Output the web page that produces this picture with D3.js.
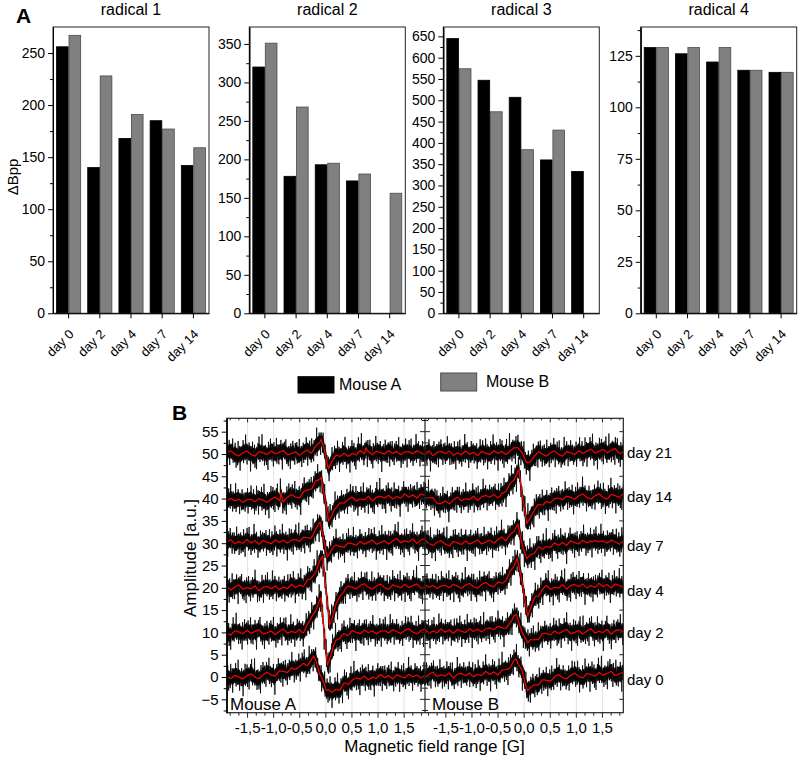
<!DOCTYPE html>
<html><head><meta charset="utf-8">
<script src="https://cdn.jsdelivr.net/npm/d3@7"></script>
<style>
body{margin:0;background:#fff;}
svg text{font-family:Arial,"Liberation Sans",sans-serif;fill:#000;}
</style></head><body>
<svg id="chart" width="800" height="759"></svg>
<script>
// ---------- Panel A data ----------
const days = ["day 0","day 2","day 4","day 7","day 14"];
const radicals = ["radical 1","radical 2","radical 3","radical 4"];
const mouseLabels = ["Mouse A","Mouse B"];
const r1A = [256,140,168,185,142], r1B = [267,228,191,177,159];
const r2A = [320,178,193,172,null], r2B = [351,268,195,181,156];
const r3A = [645,547,507,360,333], r3B = [574,473,384,430,null];
const r4A = [129,126,122,118,117], r4B = [129,129,129,118,117];
const yMax = [275,372,672,139];
const yMajor = [50,50,50,25];

// ---------- Panel B data ----------
const spectraDays = ["day 0","day 2","day 4","day 7","day 14","day 21"];
const labelLevels = [-0.6, 9.9, 19.3, 29.4, 40.4, 50.2];
const fieldTicks = [-1.5,-1.0,-0.5,0.0,0.5,1.0,1.5];
const ampTicks = [-5,0,5,10,15,20,25,30,35,40,45,50,55];
// smoothed (red) fit curves, [field, amplitude]
const fitA0 = [[-1.9,-0.2],[-1.3,0.1],[-0.7,1.4],[-0.37,2.7],[-0.23,4.6],[-0.06,-0.6],[0.01,-3.6],[0.17,-2.9],[0.27,-2.8],[0.39,-1.3],[0.65,-0.4],[1.0,0.0],[1.9,0.2]];
const fitA2 = [[-1.9,10.0],[-1.0,10.0],[-0.45,10.2],[-0.3,12.4],[-0.15,16.0],[-0.09,17.6],[0.03,2.4],[0.14,6.8],[0.3,9.3],[0.5,10.0],[1.9,10.2]];
const fitA4 = [[-1.9,20.0],[-1.0,19.9],[-0.5,20.3],[-0.3,21.8],[-0.18,24.0],[-0.06,27.0],[0.07,11.7],[0.2,16.4],[0.37,19.8],[0.6,20.2],[1.9,20.3]];
const fitA7 = [[-1.9,30.3],[-1.0,30.2],[-0.5,30.6],[-0.3,31.3],[-0.11,34.1],[0.03,27.4],[0.15,28.8],[0.3,29.6],[1.0,30.2],[1.9,30.6]];
const fitA14 = [[-1.9,39.6],[-1.2,39.5],[-0.88,39.7],[-0.86,41.8],[-0.83,39.8],[-0.46,40.9],[-0.27,42.5],[-0.09,44.8],[0.05,34.6],[0.15,37.6],[0.35,39.5],[0.8,40.0],[1.9,40.7]];
const fitA21 = [[-1.9,50.0],[-1.0,50.2],[-0.3,50.2],[-0.09,53.2],[0.05,47.2],[0.2,49.4],[0.5,50.0],[0.74,50.3],[0.77,51.5],[0.8,50.3],[1.9,50.2]];
const fitB0 = [[-1.9,0.4],[-1.0,0.4],[-0.45,1.0],[-0.3,2.0],[-0.15,3.8],[-0.05,1.5],[0.07,-2.9],[0.2,-2.0],[0.35,-1.1],[0.6,-0.2],[1.0,0.3],[1.9,0.8]];
const fitB2 = [[-1.9,10.2],[-1.0,10.3],[-0.4,11.0],[-0.25,12.0],[-0.15,13.8],[0.07,7.3],[0.2,8.6],[0.4,9.6],[0.8,10.1],[1.9,10.2]];
const fitB4 = [[-1.9,20.2],[-1.0,20.3],[-0.41,21.0],[-0.28,23.0],[-0.13,26.5],[0.07,14.0],[0.22,18.1],[0.4,19.8],[0.8,20.3],[1.9,20.5]];
const fitB7 = [[-1.9,30.0],[-1.0,30.0],[-0.35,30.8],[-0.12,33.8],[0.05,26.3],[0.3,28.9],[0.85,30.1],[1.3,30.2],[1.36,31.0],[1.42,30.2],[1.9,30.2]];
const fitB14 = [[-1.9,40.3],[-1.6,39.0],[-1.2,39.8],[-0.47,40.6],[-0.28,42.6],[-0.1,46.3],[0.05,34.1],[0.2,37.8],[0.55,39.7],[1.0,40.3],[1.9,40.6]];
const fitB21 = [[-1.9,50.2],[-1.0,50.1],[-0.3,50.3],[-0.12,51.6],[0.04,48.0],[0.3,50.0],[1.0,50.2],[1.55,50.8],[1.9,50.3]];
// measured noise residual (raw - fit), amplitude units
const noise = [1.2,-1.8,2.6,-0.6,-2.9,1.5,0.4,-2.2,3.3,-1.2,
-0.3,2.1,-3.5,1.0,1.7,-1.5,0.6,-0.8,2.8,-2.4,
1.8,-0.4,-1.9,3.8,-1.1,0.8,-3.0,1.4,0.2,-1.8,
2.3,-0.7,1.2,-3.9,1.9,0.3,-1.4,3.0,-2.0,0.7,
-1.0,2.5,-2.6,0.4,1.5,-3.3,1.1,-0.2,2.2,-1.6,
3.4,-0.8,-2.3,1.2,0.5,-1.4,4.1,-1.9,0.3,-1.2,
1.6,-2.7,0.8,2.0,-0.5,-2.4,1.4,0.4,-3.6,2.6,
-0.3,1.0,-1.8,2.9,-1.1,0.7,-2.2,1.8,-0.1,-3.1,
2.4,0.5,-1.5,1.2,-0.7,3.5,-2.3,0.1,1.9,-1.4,
-2.7,1.6,0.8,-1.0,2.6,-2.0,0.4,-4.2,1.5,1.1,
-0.5,2.2,-1.6,0.3,3.1,-1.2,-2.2,1.4,0.7,-2.6,
1.9,-0.4,1.2,-3.4,2.3,-0.8,0.5,-1.5,2.7,-1.9,
1.0,-0.1,-2.8,2.0,0.3,-1.1,2.4,-2.3,0.8,1.5,
-1.8,3.6,-0.7,-1.4,0.4,1.8,-3.0,1.2,-0.3,2.2,
-2.4,0.7,1.4,-1.0,-2.0,3.0,-0.5,1.1,-3.5,1.6,
0.1,-1.5,2.6,-1.2,0.5,-2.2,3.2,-1.6,0.9,-0.4,
-2.7,1.9,0.3,-1.9,1.5,-0.8,3.9,-2.6,0.7,1.2,
-1.1,2.3,-1.4,0.4,-3.2,1.6,-0.3,1.4,-2.0,2.8,
-0.9,0.8,-1.6,2.0,-0.1,-2.4,1.1,1.8,-1.2,-0.4,
2.6,-3.1,0.5,1.4,-1.5,0.9,-0.7,3.1,-2.2,0.3];
// half-width of the dense noise core around the fit, amplitude units
const noiseCore = 1.7;
// small ripple of the smoothed curve
const ripple = [0.3,-0.2,0.5,0.1,-0.4,0.3,0.7,-0.1,-0.5,0.2,0.6,-0.2,-0.6,0.4,0.1,-0.3,0.5,-0.2,0.2,0.6,-0.4,-0.1,0.3,-0.5,0.2,0.7,-0.3,0.1,-0.2,0.5,-0.6,0.2,0.4,-0.1,0.5,-0.4,0.1,-0.3,0.6,-0.2,0.3,-0.5,0.4,0.0,-0.3,0.5,-0.1,0.3,-0.4,0.2];
const samplesPerTrace = 400;

// ---------- layout ----------
const FONT = 'Arial, "Liberation Sans", sans-serif';
const svg = d3.select("#chart");
svg.append("rect").attr("width",800).attr("height",759).attr("fill","#fff");

const A_LEFT = [53, 249.3, 443.3, 640.7], A_W = 156, A_TOP = 27, A_BOT = 313.3;
const barSets = [[r1A,r1B],[r2A,r2B],[r3A,r3B],[r4A,r4B]];
const barFill = ["#000000","#808080"], barStroke = ["#000000","#4a4a4a"];

svg.append("text").attr("x",16).attr("y",23).attr("font-size",21).attr("font-weight","bold").text("A");
svg.append("text").attr("transform","translate(18,177) rotate(-90)").attr("text-anchor","middle")
  .attr("font-size",15).text("ΔBpp");

radicals.forEach((name, i) => {
  const g = svg.append("g").attr("transform", `translate(${A_LEFT[i]},0)`);
  const x = d3.scaleBand().domain(days).range([0, A_W]).paddingInner(0.2).paddingOuter(0.1);
  const xm = d3.scaleBand().domain(mouseLabels).range([0, x.bandwidth()]);
  const y = d3.scaleLinear().domain([0, yMax[i]]).range([A_BOT, A_TOP]);
  const sets = barSets[i];
  days.forEach((d, j) => {
    mouseLabels.forEach((m, k) => {
      const v = sets[k][j];
      if (v == null) return;
      g.append("rect").attr("x", x(d) + xm(m) + 0.4).attr("y", y(v))
        .attr("width", xm.bandwidth() - 0.8).attr("height", y(0) - y(v))
        .attr("fill", barFill[k]).attr("stroke", barStroke[k]).attr("stroke-width", 0.8);
    });
  });
  g.append("rect").attr("x",0).attr("y",A_TOP).attr("width",A_W).attr("height",A_BOT-A_TOP)
    .attr("fill","none").attr("stroke","#222").attr("stroke-width",1);
  const major = d3.range(0, yMax[i] + 0.001, yMajor[i]);
  const minor = d3.range(yMajor[i]/2, yMax[i], yMajor[i]);
  const ax = g.append("g").call(d3.axisLeft(y).tickValues(major).tickSize(5).tickSizeOuter(0).tickPadding(3).tickFormat(d3.format("d")));
  ax.attr("font-size",14).attr("font-family",FONT);
  g.append("g").call(d3.axisLeft(y).tickValues(minor).tickSize(3).tickSizeOuter(0).tickFormat(""));
  g.append("g").attr("transform",`translate(0,${A_BOT})`)
    .call(d3.axisBottom(x).tickSize(5).tickSizeOuter(0).tickFormat(""));
  days.forEach(d => {
    g.append("text").attr("transform",`translate(${x(d)+x.bandwidth()/2+6},335) rotate(-45)`)
      .attr("text-anchor","end").attr("font-size",13).text(d);
  });
  g.append("text").attr("x",A_W/2).attr("y",15).attr("text-anchor","middle").attr("font-size",16).text(name);
});

// legend
const legendItems = [[298,376.7,16.3,339,390],[440.7,373,18,486,387]];
mouseLabels.forEach((m,k) => {
  const L = legendItems[k];
  svg.append("rect").attr("x",L[0]).attr("y",L[1]).attr("width",36).attr("height",L[2])
    .attr("fill",barFill[k]).attr("stroke",barStroke[k]).attr("stroke-width",1);
  svg.append("text").attr("x",L[3]).attr("y",L[4]).attr("font-size",16).text(m);
});

// ---------- Panel B ----------
const B_TOP=418.3, B_BOT=712.7, B_L=226.7, B_MID=425, B_R=623.3;
const yB = d3.scaleLinear().domain([-8,58]).range([B_BOT,B_TOP]);
const xPanels = [d3.scaleLinear().domain([-1.9,1.9]).range([B_L,B_MID]),
                 d3.scaleLinear().domain([-1.9,1.9]).range([B_MID,B_R])];
const fitsByMouse = [[fitA0,fitA2,fitA4,fitA7,fitA14,fitA21],[fitB0,fitB2,fitB4,fitB7,fitB14,fitB21]];

svg.append("text").attr("x",172).attr("y",420).attr("font-size",21).attr("font-weight","bold").text("B");
svg.append("defs").append("clipPath").attr("id","clipB").append("rect")
  .attr("x",B_L).attr("y",B_TOP).attr("width",B_R-B_L).attr("height",B_BOT-B_TOP);

const sIdx = d3.scaleLinear().domain([0, samplesPerTrace-1]).range([-1.9,1.9]);
const rIdx = d3.scaleLinear().domain([0, ripple.length-1]).range([-1.9,1.9]);
const plot = svg.append("g").attr("clip-path","url(#clipB)");

xPanels.forEach(xs => {
  fieldTicks.forEach(v => {
    plot.append("line").attr("x1",xs(v)).attr("x2",xs(v)).attr("y1",B_TOP).attr("y2",B_BOT)
      .attr("stroke","#e3e3e3").attr("stroke-width",1);
  });
});

fitsByMouse.forEach((fits, p) => {
  const xs = xPanels[p];
  fits.forEach((fit, t) => {
    const base = d3.scaleLinear().domain(fit.map(d=>d[0])).range(fit.map(d=>d[1])).clamp(true);
    const rOff = (t*11 + p*23) % ripple.length;
    const rip = d3.scaleLinear().domain(ripple.map((_,i)=>rIdx(i)))
      .range(ripple.map((_,i)=>ripple[(i+rOff)%ripple.length]));
    const nOff = (t*37 + p*101) % noise.length;
    const pts = d3.range(samplesPerTrace).map(i => {
      const fx = sIdx(i);
      const r = base(fx) + rip(fx);
      const n = noise[(i + nOff) % noise.length];
      const w = noiseCore * Math.min(1, Math.abs(n) + 0.3);
      return {fx, r, raw: r + n, lo: r - w, hi: r + w};
    });
    plot.append("path").datum(pts).attr("fill","#000").attr("fill-opacity",0.9)
      .attr("d", d3.area().x(d=>xs(d.fx)).y0(d=>yB(d.lo)).y1(d=>yB(d.hi)));
    plot.append("path").datum(pts).attr("fill","none").attr("stroke","#000").attr("stroke-width",0.8)
      .attr("d", d3.line().x(d=>xs(d.fx)).y(d=>yB(d.raw)));
    plot.append("path").datum(pts).attr("fill","none").attr("stroke","#ff0000").attr("stroke-width",1.2)
      .attr("d", d3.line().x(d=>xs(d.fx)).y(d=>yB(d.r)));
  });
});

// frame
svg.append("rect").attr("x",B_L).attr("y",B_TOP).attr("width",B_R-B_L).attr("height",B_BOT-B_TOP)
  .attr("fill","none").attr("stroke","#222").attr("stroke-width",1.2);
svg.append("line").attr("x1",B_MID).attr("x2",B_MID).attr("y1",B_TOP).attr("y2",B_BOT)
  .attr("stroke","#222").attr("stroke-width",1.2);

// left axis
const yAx = svg.append("g").attr("transform",`translate(${B_L},0)`)
  .call(d3.axisLeft(yB).tickValues(ampTicks).tickSize(5).tickSizeOuter(0).tickPadding(3));
yAx.attr("font-size",15).attr("font-family",FONT);
const ampMinor = ampTicks.map(v => v + 2.5).concat([-7.5]).filter(v => v < 58);
svg.append("g").attr("transform",`translate(${B_L},0)`)
  .call(d3.axisLeft(yB).tickValues(ampMinor).tickSize(3).tickSizeOuter(0).tickFormat(""));
// divider crossing ticks
ampTicks.forEach(v => {
  svg.append("line").attr("x1",B_MID-5).attr("x2",B_MID+5).attr("y1",yB(v)).attr("y2",yB(v)).attr("stroke","#222");
  svg.append("line").attr("x1",B_R-4).attr("x2",B_R).attr("y1",yB(v)).attr("y2",yB(v)).attr("stroke","#222");
});
ampMinor.forEach(v => {
  svg.append("line").attr("x1",B_MID-3).attr("x2",B_MID+3).attr("y1",yB(v)).attr("y2",yB(v)).attr("stroke","#222");
});
// bottom/top axes
const fineTicks = d3.range(-11, 12).map(k => k/6);
xPanels.forEach(xs => {
  fineTicks.forEach(v => {
    const len = (Math.round(v*6) % 3 === 0) ? 5 : 3;
    svg.append("line").attr("x1",xs(v)).attr("x2",xs(v)).attr("y1",B_BOT).attr("y2",B_BOT+len).attr("stroke","#222");
    svg.append("line").attr("x1",xs(v)).attr("x2",xs(v)).attr("y1",B_TOP).attr("y2",B_TOP+len-1).attr("stroke","#222");
  });
  fieldTicks.forEach(v => {
    svg.append("text").attr("x",xs(v)).attr("y",733).attr("text-anchor","middle").attr("font-size",15)
      .text(v.toFixed(1).replace(".",","));
  });
});

// day labels
spectraDays.forEach((d, t) => {
  svg.append("text").attr("x",627).attr("y",yB(labelLevels[t]) + 5).attr("font-size",15).text(d);
});
svg.append("text").attr("x",230).attr("y",710).attr("font-size",17).text("Mouse A");
svg.append("text").attr("x",432).attr("y",710).attr("font-size",17).text("Mouse B");
svg.append("text").attr("x",434.5).attr("y",752).attr("text-anchor","middle").attr("font-size",17).text("Magnetic field range [G]");
svg.append("text").attr("transform","translate(196,558) rotate(-90)").attr("text-anchor","middle")
  .attr("font-size",17).text("Amplitude [a.u.]");
</script>
</body></html>
